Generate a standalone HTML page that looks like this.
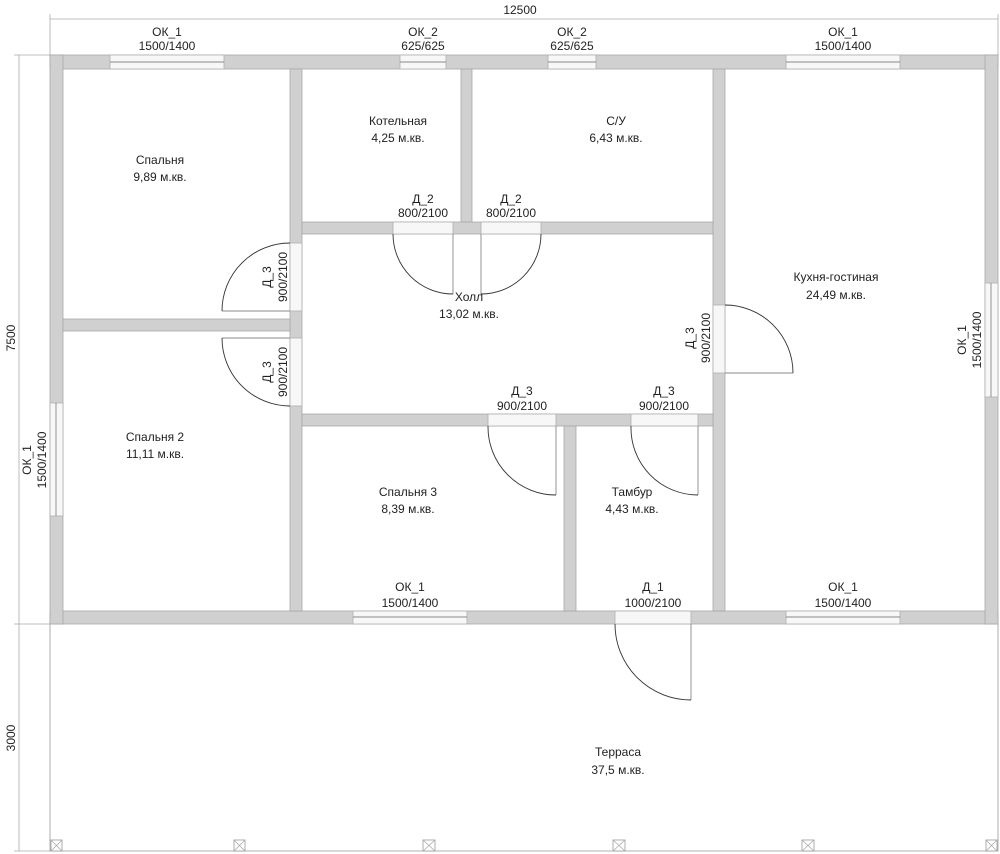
<!DOCTYPE html>
<html><head><meta charset="utf-8"><style>
html,body{margin:0;padding:0;background:#fff;}
svg{display:block;}
text{font-family:"Liberation Sans Narrow","Liberation Sans",sans-serif;font-size:12px;fill:#222;text-anchor:middle;}
.w{fill:#d0d0d0;stroke:#a8a8a8;stroke-width:0.8;}
.op{fill:#f7f7f7;stroke:#b0b0b0;stroke-width:0.8;}
.arc{fill:none;stroke:#333;stroke-width:0.9;}
.leaf{stroke:#888;stroke-width:0.9;fill:none;}
.dim{stroke:#aaa;stroke-width:0.8;fill:none;}
.post{fill:#fff;stroke:#999;stroke-width:0.8;}
</style></head><body>
<svg width="1000" height="854" viewBox="0 0 1000 854" xmlns="http://www.w3.org/2000/svg">
<!-- dimensions -->
<line class="dim" x1="50" y1="19" x2="998" y2="19"/>
<line class="dim" x1="50" y1="14" x2="50" y2="55"/>
<line class="dim" x1="998" y1="14" x2="998" y2="55"/>
<text x="520" y="14">12500</text>
<line class="dim" x1="19" y1="55" x2="19" y2="851"/>
<line class="dim" x1="14" y1="55" x2="50" y2="55"/>
<line class="dim" x1="14" y1="624" x2="50" y2="624"/>
<line class="dim" x1="14" y1="851" x2="50" y2="851"/>
<text transform="translate(15,338) rotate(-90)">7500</text>
<text transform="translate(15,738) rotate(-90)">3000</text>
<!-- terrace outline -->
<polyline class="dim" points="50,624 50,851 998,851 998,624" style="stroke:#999"/>
<!-- outer walls -->
<rect class="w" x="50" y="55" width="948" height="14"/>
<rect class="w" x="50" y="611" width="948" height="13"/>
<rect class="w" x="50" y="55" width="13" height="569"/>
<rect class="w" x="985" y="55" width="13" height="569"/>
<!-- interior walls -->
<rect class="w" x="290" y="69" width="12" height="542"/>
<rect class="w" x="63" y="319" width="227" height="12"/>
<rect class="w" x="461" y="69" width="11" height="153"/>
<rect class="w" x="302" y="222" width="411" height="12"/>
<rect class="w" x="713" y="69" width="12" height="542"/>
<rect class="w" x="302" y="414" width="411" height="12"/>
<rect class="w" x="564" y="426" width="12" height="185"/>
<!-- windows top -->
<g>
<rect class="op" x="110" y="55" width="114" height="14"/><line class="leaf" x1="110" y1="62" x2="224" y2="62"/>
<rect class="op" x="400" y="55" width="46" height="14"/><line class="leaf" x1="400" y1="62" x2="446" y2="62"/>
<rect class="op" x="548" y="55" width="48" height="14"/><line class="leaf" x1="548" y1="62" x2="596" y2="62"/>
<rect class="op" x="786" y="55" width="114" height="14"/><line class="leaf" x1="786" y1="62" x2="900" y2="62"/>
<rect class="op" x="353" y="611" width="114" height="13"/><line class="leaf" x1="353" y1="617" x2="467" y2="617"/>
<rect class="op" x="786" y="611" width="114" height="13"/><line class="leaf" x1="786" y1="617" x2="900" y2="617"/>
<rect class="op" x="50" y="403" width="13" height="113"/><line class="leaf" x1="56" y1="403" x2="56" y2="516"/>
<rect class="op" x="985" y="283" width="13" height="114"/><line class="leaf" x1="991" y1="283" x2="991" y2="397"/>
</g>
<!-- door openings -->
<rect class="op" x="393" y="222" width="60" height="12"/>
<rect class="op" x="481" y="222" width="60" height="12"/>
<rect class="op" x="290" y="243" width="12" height="68"/>
<rect class="op" x="290" y="338" width="12" height="68"/>
<rect class="op" x="713" y="305" width="12" height="68"/>
<rect class="op" x="488" y="414" width="68" height="12"/>
<rect class="op" x="631" y="414" width="67" height="12"/>
<rect class="op" x="615" y="611" width="76" height="13"/>
<!-- door leaves & arcs -->
<line class="leaf" x1="453" y1="234" x2="453" y2="294"/><path class="arc" d="M393,234 A60,60 0 0 0 453,294"/>
<line class="leaf" x1="481" y1="234" x2="481" y2="294"/><path class="arc" d="M541,234 A60,60 0 0 1 481,294"/>
<line class="leaf" x1="222" y1="311" x2="290" y2="311"/><path class="arc" d="M290,243 A68,68 0 0 0 222,311"/>
<line class="leaf" x1="222" y1="338" x2="290" y2="338"/><path class="arc" d="M222,338 A68,68 0 0 0 290,406"/>
<line class="leaf" x1="725" y1="373" x2="793" y2="373"/><path class="arc" d="M725,305 A68,68 0 0 1 793,373"/>
<line class="leaf" x1="556" y1="426" x2="556" y2="495"/><path class="arc" d="M488,426 A68,68 0 0 0 556,495"/>
<line class="leaf" x1="698" y1="426" x2="698" y2="495"/><path class="arc" d="M631,426 A67,67 0 0 0 698,495"/>
<line class="leaf" x1="691" y1="624" x2="691" y2="700"/><path class="arc" d="M615,624 A76,76 0 0 0 691,700"/>
<!-- posts -->
<g>
<rect class="post" x="51" y="840" width="11" height="11"/><path class="dim" d="M51,840 L62,851 M62,840 L51,851"/>
<rect class="post" x="234" y="840" width="11" height="11"/><path class="dim" d="M234,840 L245,851 M245,840 L234,851"/>
<rect class="post" x="423" y="840" width="12" height="11"/><path class="dim" d="M423,840 L435,851 M435,840 L423,851"/>
<rect class="post" x="613" y="840" width="12" height="11"/><path class="dim" d="M613,840 L625,851 M625,840 L613,851"/>
<rect class="post" x="802" y="840" width="12" height="11"/><path class="dim" d="M802,840 L814,851 M814,840 L802,851"/>
<rect class="post" x="986" y="840" width="11" height="11"/><path class="dim" d="M986,840 L997,851 M997,840 L986,851"/>
</g>
<!-- window/door labels -->
<text x="167" y="36">ОК_1</text><text x="167" y="50">1500/1400</text>
<text x="423" y="36">ОК_2</text><text x="423" y="50">625/625</text>
<text x="572" y="36">ОК_2</text><text x="572" y="50">625/625</text>
<text x="843" y="36">ОК_1</text><text x="843" y="50">1500/1400</text>
<text x="423" y="203">Д_2</text><text x="423" y="217">800/2100</text>
<text x="511" y="203">Д_2</text><text x="511" y="217">800/2100</text>
<text x="522" y="395">Д_3</text><text x="522" y="410">900/2100</text>
<text x="664" y="395">Д_3</text><text x="664" y="410">900/2100</text>
<text x="410" y="591">ОК_1</text><text x="410" y="607">1500/1400</text>
<text x="653" y="591">Д_1</text><text x="653" y="607">1000/2100</text>
<text x="843" y="591">ОК_1</text><text x="843" y="607">1500/1400</text>
<text transform="translate(271,277) rotate(-90)">Д_3</text><text transform="translate(287,277) rotate(-90)">900/2100</text>
<text transform="translate(271,372) rotate(-90)">Д_3</text><text transform="translate(287,372) rotate(-90)">900/2100</text>
<text transform="translate(694,338) rotate(-90)">Д_3</text><text transform="translate(710,338) rotate(-90)">900/2100</text>
<text transform="translate(966,340) rotate(-90)">ОК_1</text><text transform="translate(981,340) rotate(-90)">1500/1400</text>
<text transform="translate(31,460) rotate(-90)">ОК_1</text><text transform="translate(46,460) rotate(-90)">1500/1400</text>
<!-- room labels -->
<text x="160" y="164">Спальня</text><text x="160" y="181">9,89 м.кв.</text>
<text x="398" y="125">Котельная</text><text x="398" y="142">4,25 м.кв.</text>
<text x="616" y="125">С/У</text><text x="616" y="142">6,43 м.кв.</text>
<text x="836" y="281">Кухня-гостиная</text><text x="836" y="299">24,49 м.кв.</text>
<text x="469" y="301">Холл</text><text x="469" y="318">13,02 м.кв.</text>
<text x="155" y="441">Спальня 2</text><text x="155" y="458">11,11 м.кв.</text>
<text x="408" y="496">Спальня 3</text><text x="408" y="513">8,39 м.кв.</text>
<text x="632" y="496">Тамбур</text><text x="632" y="513">4,43 м.кв.</text>
<text x="618" y="756">Терраса</text><text x="618" y="774">37,5 м.кв.</text>
</svg>
</body></html>
